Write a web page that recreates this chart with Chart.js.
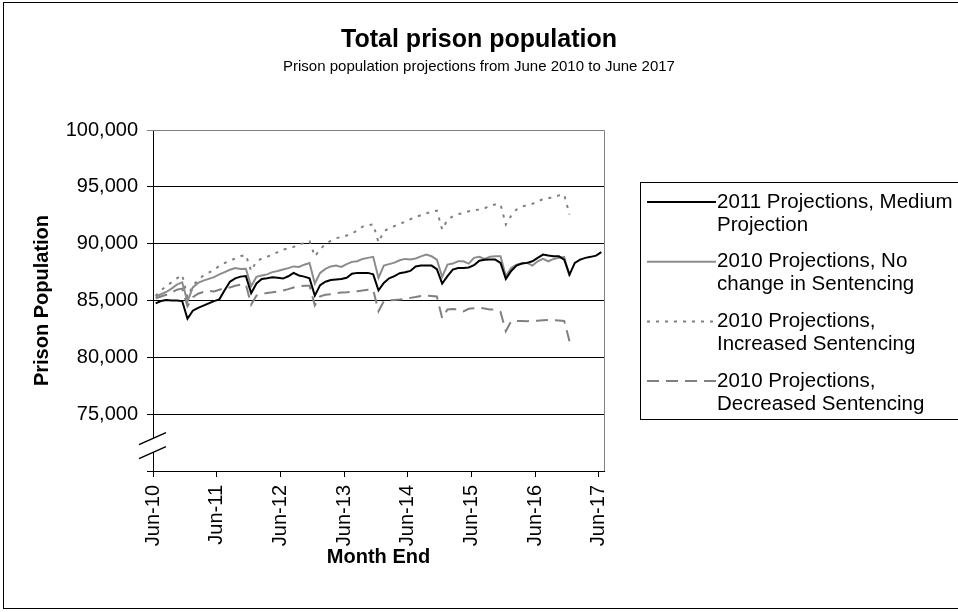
<!DOCTYPE html>
<html>
<head>
<meta charset="utf-8">
<title>Total prison population</title>
<script src="https://cdn.jsdelivr.net/npm/chart.js@4.4.1/dist/chart.umd.min.js"></script>
<style>
  html, body { margin: 0; padding: 0; background: #fff; }
  #wrap { width: 958px; height: 612px; }
</style>
</head>
<body>
<div id="wrap"><canvas id="prisonChart" width="958" height="612"></canvas></div>
<script>
// x axis labels, one every 12 months from Jun-10
const tickLabels = ['Jun-10', 'Jun-11', 'Jun-12', 'Jun-13', 'Jun-14', 'Jun-15', 'Jun-16', 'Jun-17'];

// legend text, split the way it wraps in the key
const seriesNames = [
    ['2011 Projections, Medium', 'Projection'],
    ['2010 Projections, No', 'change in Sentencing'],
    ['2010 Projections,', 'Increased Sentencing'],
    ['2010 Projections,', 'Decreased Sentencing']
];

// monthly month-end population, Jun-10 onwards
const medium2011 = [
    84750, 84950, 85050, 85000, 85000, 84950, 83400, 84100, 84350, 84550, 84750, 84950,
    85100, 85900, 86650, 86950, 87100, 87150, 85650, 86500, 86900, 86950, 87050, 87000,
    86930, 87130, 87430, 87200, 87100, 86950, 85430, 86350, 86650, 86800, 86850, 86900,
    87000, 87350, 87430, 87430, 87430, 87300, 85900, 86550, 86950, 87150, 87400, 87480,
    87600, 88000, 88070, 88070, 88070, 87750, 86490, 87150, 87720, 87850, 87870, 87900,
    88100, 88500, 88580, 88600, 88600, 88300, 86900, 87600, 88070, 88250, 88310, 88450,
    88750, 89040, 88950, 88900, 88890, 88600, 87280, 88310, 88600, 88750, 88840, 88950,
    89250
];

const noChange2010 = [
    85350, 85550, 85750, 86050, 86400, 86600, 84900, 86150, 86550, 86750, 86900, 87050,
    87300, 87500, 87700, 87850, 87780, 87800, 86250, 87080, 87200, 87300, 87500, 87600,
    87720, 87850, 88000, 87950, 88150, 88300, 86490, 87430, 87780, 88000, 88070, 87960,
    88200, 88400, 88450, 88660, 88750, 88840, 86990, 88070, 88200, 88330, 88540, 88660,
    88600, 88700, 88880, 89040, 88890, 88600, 87080, 88160, 88250, 88450, 88450, 88250,
    88750, 88840, 88660, 88850, 88890, 88890, 87130, 87870, 88150, 88250, 88310, 88070,
    88450, 88660, 88450, 88660, 88750, 88840, 87130
];

const increased2010 = [
    85400, 85900, 86250, 86600, 86950, 87250, 85300, 86300, 86800, 87200, 87450, 87700,
    88050, 88300, 88500, 88700, 88900, 89000, 87600, 88450, 88700, 88850, 89040, 89250,
    89480, 89600, 89720, 89900, 90070, 90210, 88890, 89480, 90000, 90250, 90480, 90600,
    90710, 90900, 91150, 91500, 91620, 91700, 90120, 91090, 91350, 91550, 91700, 91950,
    92150, 92350, 92500, 92650, 92840, 92900, 91240, 92100, 92400, 92600, 92700, 92850,
    92940, 93000, 93100, 93350, 93450, 93450, 91680, 92450, 93000, 93250, 93400, 93500,
    93700, 93930, 94000, 94100, 94250, 94310, 92560
];

const decreased2010 = [
    85200, 85350, 85500, 85700, 85950, 86050, 84500, 85300, 85600, 85750, 85850, 85800,
    85950, 86100, 86150, 86300, 86400, 86400, 84640, 85430, 85550, 85670, 85720, 85800,
    85880, 86000, 86150, 86250, 86300, 86300, 84560, 85370, 85500, 85550, 85650, 85700,
    85730, 85780, 85820, 85880, 85950, 85950, 84050, 84930, 85000, 85050, 85080, 85150,
    85230, 85300, 85400, 85430, 85400, 85350, 83450, 84210, 84250, 84210, 84050, 84270,
    84320, 84350, 84300, 84210, 84200, 84000, 82300, 83180, 83200, 83200, 83180, 83200,
    83220, 83260, 83280, 83260, 83250, 83200, 81420
];

const seriesValues = [medium2011, noChange2010, increased2010, decreased2010];
const seriesColors = ['#000000', '#8c8c8c', '#808080', '#808080'];
const seriesDash = [[], [], [3, 6], [12, 7]];

// each month sits in the middle of its slot on the axis
function toPoints(values) {
    return values.map((v, i) => ({ x: i + 0.5, y: v }));
}

const FONT = 'Liberation Sans, Arial, Helvetica, sans-serif';

// white gap and slashes across the value axis, plus the outer frame and the key
const extras = {
    id: 'extras',
    beforeDraw(chart) {
        const ctx = chart.ctx;
        ctx.save();
        ctx.fillStyle = '#fff';
        ctx.fillRect(0, 0, chart.width, chart.height);
        ctx.restore();
    },
    afterDraw(chart) {
        const ctx = chart.ctx;
        const area = chart.chartArea;
        ctx.save();

        // plot frame, top and right
        ctx.strokeStyle = '#808080';
        ctx.lineWidth = 1;
        ctx.beginPath();
        ctx.moveTo(area.left, area.top + 0.5);
        ctx.lineTo(area.right + 0.5, area.top + 0.5);
        ctx.lineTo(area.right + 0.5, area.bottom);
        ctx.stroke();

        // axis break
        const ax = area.left;
        const yb = chart.scales.y.getPixelForValue(72500);
        ctx.fillStyle = '#fff';
        ctx.beginPath();
        ctx.moveTo(ax - 14, yb + 2);
        ctx.lineTo(ax + 13, yb - 10);
        ctx.lineTo(ax + 13, yb + 4);
        ctx.lineTo(ax - 14, yb + 16);
        ctx.closePath();
        ctx.fill();
        ctx.strokeStyle = '#000';
        ctx.lineWidth = 1.5;
        ctx.beginPath();
        ctx.moveTo(ax - 14, yb + 2);
        ctx.lineTo(ax + 13, yb - 10);
        ctx.moveTo(ax - 14, yb + 16);
        ctx.lineTo(ax + 13, yb + 4);
        ctx.stroke();

        // outer frame
        ctx.strokeStyle = '#000';
        ctx.lineWidth = 1;
        ctx.strokeRect(3.5, 2.5, 980, 606);

        // key
        const kx = 640.5, ky = 182.5;
        ctx.strokeRect(kx, ky, 400, 237);
        ctx.font = '20.5px ' + FONT;
        ctx.textBaseline = 'middle';
        ctx.textAlign = 'left';
        ctx.fillStyle = '#000';
        chart.data.datasets.forEach((ds, i) => {
            const ly = 202 + i * 59.7;
            ctx.strokeStyle = ds.borderColor;
            ctx.lineWidth = ds.borderWidth;
            ctx.setLineDash(ds.borderDash);
            ctx.beginPath();
            ctx.moveTo(647, ly);
            ctx.lineTo(716, ly);
            ctx.stroke();
            ctx.setLineDash([]);
            seriesNames[i].forEach((t, j) => ctx.fillText(t, 717, ly + j * 23));
        });
        ctx.restore();
    }
};

new Chart(document.getElementById('prisonChart'), {
    type: 'line',
    data: {
        datasets: seriesValues.map((vals, i) => ({
            label: seriesNames[i].join(' '),
            data: toPoints(vals),
            borderColor: seriesColors[i],
            borderWidth: 2,
            borderDash: seriesDash[i],
            pointRadius: 0,
            tension: 0,
            fill: false
        }))
    },
    options: {
        responsive: false,
        animation: false,
        layout: { padding: 0 },
        plugins: {
            legend: { display: false },
            tooltip: { enabled: false },
            title: {
                display: true,
                text: 'Total prison population',
                color: '#000',
                font: { family: FONT, size: 25, weight: 'bold' },
                padding: { top: 25, bottom: 0 }
            },
            subtitle: {
                display: true,
                text: 'Prison population projections from June 2010 to June 2017',
                color: '#000',
                font: { family: FONT, size: 15 },
                padding: { top: 3, bottom: 54 }
            }
        },
        scales: {
            x: {
                type: 'linear',
                min: 0,
                max: 85,
                afterFit(scale) {
                    scale.height = 141;
                    scale.paddingLeft = 0;
                    scale.paddingRight = 0;
                },
                border: { color: '#000', width: 1 },
                grid: { drawOnChartArea: false, drawTicks: true, tickLength: 6, color: '#000' },
                ticks: {
                    stepSize: 12,
                    includeBounds: false,
                    autoSkip: false,
                    minRotation: 90,
                    maxRotation: 90,
                    padding: 8,
                    color: '#000',
                    font: { family: FONT, size: 20 },
                    callback: (v) => tickLabels[v / 12] || ''
                },
                title: {
                    display: true,
                    text: 'Month End',
                    color: '#000',
                    font: { family: FONT, size: 20, weight: 'bold' },
                    padding: { bottom: 43 }
                }
            },
            y: {
                min: 70000,
                max: 100000,
                afterFit(scale) {
                    scale.width = 153;
                    scale.paddingTop = 0;
                    scale.paddingBottom = 0;
                },
                border: { color: '#000', width: 1 },
                grid: {
                    tickLength: 6,
                    color: (c) => (c.tick && c.tick.value === 100000 ? '#808080' : '#000')
                },
                ticks: {
                    stepSize: 5000,
                    padding: 9,
                    color: '#000',
                    font: { family: FONT, size: 20 },
                    callback: (v) => (v === 70000 ? '' : v.toLocaleString('en-US'))
                },
                title: {
                    display: true,
                    text: 'Prison Population',
                    color: '#000',
                    font: { family: FONT, size: 20, weight: 'bold' },
                    padding: { top: 30 }
                }
            },
            // empty right-hand strip that leaves room for the key
            keySpace: {
                axis: 'y',
                position: 'right',
                afterFit(scale) {
                    scale.width = 354;
                    scale.paddingTop = 0;
                    scale.paddingBottom = 0;
                },
                grid: { display: false },
                border: { display: false },
                ticks: { display: false }
            }
        }
    },
    plugins: [extras]
});
</script>
</body>
</html>
